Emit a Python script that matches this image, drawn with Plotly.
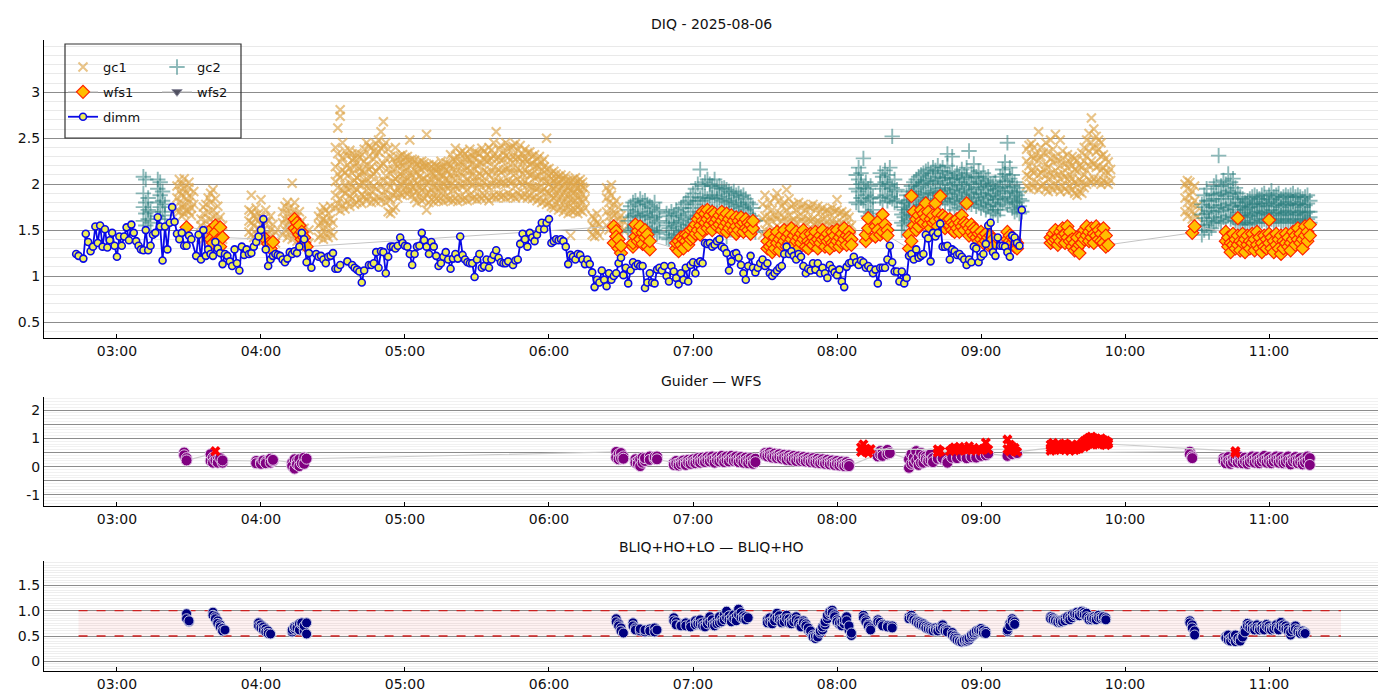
#! python3
# DIQ night summary: seeing per source + guider/WFS and BLIQ ratio panels
import pandas as pd
import plotly.graph_objects as go

DAY = '2025-08-06'
FONT = 'DejaVu Sans'

# ---------------- top panel: DIQ ----------------
dimm_time = [
    '02:43', '02:44', '02:46', '02:47', '02:48', '02:49', '02:50', '02:51', '02:52', '02:53',
    '02:54', '02:55', '02:56', '02:57', '02:58', '02:59', '03:00', '03:01', '03:02', '03:03',
    '03:04', '03:05', '03:06', '03:07', '03:08', '03:09', '03:10', '03:11', '03:12', '03:13',
    '03:14', '03:15', '03:16', '03:17', '03:18', '03:19', '03:20', '03:21', '03:22', '03:23',
    '03:24', '03:25', '03:26', '03:27', '03:28', '03:29', '03:30', '03:31', '03:33', '03:34',
    '03:35', '03:36', '03:37', '03:38', '03:39', '03:40', '03:41', '03:42', '03:43', '03:44',
    '03:45', '03:46', '03:47', '03:48', '03:49', '03:50', '03:51', '03:52', '03:53', '03:54',
    '03:55', '03:56', '03:57', '03:58', '03:59', '04:00', '04:01', '04:02', '04:03', '04:04',
    '04:05', '04:06', '04:07', '04:08', '04:09', '04:10', '04:11', '04:12', '04:13', '04:14',
    '04:15', '04:16', '04:17', '04:18', '04:19', '04:20', '04:21', '04:23', '04:24', '04:25',
    '04:26', '04:27', '04:28', '04:29', '04:30', '04:31', '04:32', '04:33', '04:36', '04:38',
    '04:39', '04:40', '04:41', '04:42', '04:43', '04:45', '04:46', '04:47', '04:48', '04:49',
    '04:50', '04:51', '04:52', '04:53', '04:54', '04:55', '04:56', '04:57', '04:58', '04:59',
    '05:00', '05:01', '05:02', '05:03', '05:04', '05:05', '05:06', '05:07', '05:08', '05:09',
    '05:10', '05:11', '05:12', '05:13', '05:14', '05:15', '05:16', '05:17', '05:18', '05:19',
    '05:20', '05:21', '05:22', '05:23', '05:24', '05:25', '05:26', '05:27', '05:28', '05:29',
    '05:30', '05:31', '05:32', '05:33', '05:34', '05:35', '05:36', '05:37', '05:38', '05:39',
    '05:40', '05:41', '05:42', '05:43', '05:45', '05:46', '05:47', '05:48', '05:49', '05:50',
    '05:51', '05:52', '05:53', '05:54', '05:55', '05:56', '05:57', '05:58', '05:59', '06:00',
    '06:01', '06:02', '06:03', '06:04', '06:05', '06:06', '06:07', '06:08', '06:09', '06:10',
    '06:11', '06:12', '06:13', '06:14', '06:15', '06:16', '06:17', '06:18', '06:19', '06:20',
    '06:21', '06:22', '06:23', '06:24', '06:25', '06:26', '06:27', '06:28', '06:29', '06:30',
    '06:31', '06:32', '06:33', '06:34', '06:35', '06:36', '06:37', '06:38', '06:39', '06:40',
    '06:41', '06:42', '06:43', '06:44', '06:45', '06:46', '06:47', '06:48', '06:49', '06:50',
    '06:51', '06:52', '06:53', '06:54', '06:55', '06:56', '06:57', '06:58', '06:59', '07:00',
    '07:01', '07:02', '07:03', '07:04', '07:05', '07:06', '07:07', '07:08', '07:09', '07:10',
    '07:11', '07:12', '07:13', '07:14', '07:15', '07:16', '07:17', '07:18', '07:19', '07:20',
    '07:21', '07:22', '07:23', '07:24', '07:25', '07:26', '07:27', '07:28', '07:29', '07:30',
    '07:31', '07:32', '07:33', '07:34', '07:35', '07:36', '07:37', '07:38', '07:39', '07:40',
    '07:41', '07:42', '07:43', '07:44', '07:45', '07:46', '07:47', '07:48', '07:49', '07:50',
    '07:51', '07:52', '07:53', '07:54', '07:55', '07:56', '07:57', '07:58', '07:59', '08:00',
    '08:01', '08:02', '08:03', '08:04', '08:05', '08:06', '08:07', '08:08', '08:09', '08:10',
    '08:11', '08:12', '08:13', '08:14', '08:15', '08:16', '08:17', '08:18', '08:19', '08:20',
    '08:21', '08:22', '08:23', '08:24', '08:25', '08:26', '08:27', '08:28', '08:29', '08:30',
    '08:31', '08:32', '08:33', '08:34', '08:35', '08:36', '08:37', '08:38', '08:39', '08:40',
    '08:41', '08:42', '08:43', '08:44', '08:45', '08:46', '08:47', '08:48', '08:49', '08:50',
    '08:51', '08:52', '08:53', '08:54', '08:55', '08:56', '08:57', '08:58', '08:59', '09:00',
    '09:01', '09:02', '09:03', '09:04', '09:05', '09:06', '09:07', '09:08', '09:09', '09:10',
    '09:11', '09:12', '09:13', '09:14', '09:15', '09:16', '09:17']
dimm_seeing = [
    1.24, 1.22, 1.19, 1.46, 1.37, 1.27, 1.32, 1.54, 1.36, 1.55,
    1.32, 1.51, 1.31, 1.39, 1.47, 1.33, 1.21, 1.43, 1.33, 1.43,
    1.53, 1.39, 1.56, 1.47, 1.38, 1.33, 1.29, 1.28, 1.50, 1.28,
    1.33, 1.45, 1.47, 1.64, 1.54, 1.17, 1.54, 1.29, 1.58, 1.75,
    1.59, 1.46, 1.40, 1.47, 1.33, 1.33, 1.44, 1.40, 1.22, 1.45,
    1.18, 1.50, 1.22, 1.29, 1.24, 1.22, 1.37, 1.30, 1.25, 1.13,
    1.24, 1.22, 1.16, 1.11, 1.29, 1.14, 1.06, 1.32, 1.23, 1.29,
    1.24, 1.25, 1.32, 1.37, 1.43, 1.50, 1.62, 1.29, 1.11, 1.18,
    1.22, 1.24, 1.23, 1.22, 1.18, 1.15, 1.19, 1.26, 1.24, 1.27,
    1.25, 1.32, 1.47, 1.40, 1.15, 1.25, 1.09, 1.24, 1.21, 1.22,
    1.18, 1.14, 1.21, 1.22, 1.25, 1.08, 1.08, 1.12, 1.16, 1.12,
    1.09, 1.07, 1.05, 0.93, 1.06, 1.12, 1.12, 1.14, 1.26, 1.09,
    1.27, 1.26, 1.03, 1.21, 1.32, 1.32, 1.30, 1.33, 1.42, 1.36,
    1.33, 1.32, 1.24, 1.12, 1.24, 1.32, 1.33, 1.47, 1.39, 1.32,
    1.24, 1.37, 1.32, 1.22, 1.11, 1.14, 1.21, 1.26, 1.18, 1.08,
    1.19, 1.24, 1.19, 1.43, 1.23, 1.18, 1.15, 1.14, 1.14, 0.99,
    1.18, 1.24, 1.09, 1.11, 1.18, 1.09, 1.18, 1.23, 1.28, 1.20,
    1.15, 1.14, 1.14, 1.16, 1.12, 1.17, 1.18, 1.35, 1.46, 1.40,
    1.32, 1.47, 1.42, 1.38, 1.45, 1.51, 1.58, 1.51, 1.58, 1.62,
    1.36, 1.38, 1.40, 1.39, 1.40, 1.38, 1.32, 1.13, 1.23, 1.21,
    1.18, 1.24, 1.23, 1.18, 1.13, 1.18, 1.13, 1.04, 0.88, 0.96,
    0.93, 1.06, 0.96, 0.89, 1.03, 0.96, 1.00, 1.03, 1.14, 1.20,
    1.01, 1.09, 0.92, 1.06, 1.15, 1.11, 1.13, 1.11, 1.11, 0.87,
    0.93, 1.03, 0.93, 0.92, 1.07, 1.09, 1.06, 1.11, 1.00, 0.94,
    1.11, 1.05, 0.98, 0.91, 1.03, 0.96, 1.09, 0.94, 1.12, 1.15,
    1.03, 1.14, 1.16, 1.14, 1.36, 1.35, 1.36, 1.32, 1.34, 1.38,
    1.40, 1.32, 1.30, 1.25, 1.06, 1.16, 1.24, 1.25, 1.20, 1.12,
    1.03, 0.96, 1.11, 1.22, 1.09, 1.04, 1.09, 1.14, 1.18, 1.11,
    1.14, 1.03, 1.00, 1.03, 1.06, 1.09, 1.11, 1.24, 1.32, 1.24,
    1.27, 1.22, 1.18, 1.24, 1.21, 1.11, 1.03, 1.08, 1.06, 1.14,
    1.07, 1.14, 1.03, 1.09, 1.03, 0.98, 1.12, 1.08, 1.04, 1.01,
    1.07, 0.94, 0.88, 1.10, 1.14, 1.15, 1.21, 1.15, 1.12, 1.17,
    1.15, 1.09, 1.11, 1.08, 1.03, 1.07, 0.92, 1.09, 1.09, 1.09,
    1.18, 1.33, 1.15, 1.05, 1.05, 0.94, 1.05, 0.92, 0.98, 1.22,
    1.24, 1.18, 1.29, 1.20, 1.22, 1.24, 1.45, 1.41, 1.16, 1.47,
    1.43, 1.47, 1.57, 1.32, 1.32, 1.33, 1.18, 1.29, 1.27, 1.23,
    1.24, 1.21, 1.18, 1.12, 1.18, 1.15, 1.32, 1.30, 1.15, 1.21,
    1.24, 1.35, 1.55, 1.58, 1.26, 1.22, 1.42, 1.33, 1.33, 1.32,
    1.26, 1.21, 1.44, 1.42, 1.36, 1.33, 1.72]

gc1_time = [
    '03:25', '03:26', '03:27', '03:28', '03:29', '03:30', '03:31', '03:32',
    '03:35', '03:36', '03:37', '03:38', '03:39', '03:40', '03:41', '03:42', '03:43', '03:44',
    '03:55', '03:56', '03:57', '03:58', '03:59', '04:00', '04:01', '04:02', '04:03', '04:04',
    '04:05', '04:06',
    '04:09', '04:10', '04:11', '04:12', '04:13', '04:14', '04:15', '04:16', '04:17', '04:18',
    '04:19', '04:20',
    '04:24', '04:25', '04:26', '04:27', '04:28', '04:29', '04:30',
    '04:31', '04:32', '04:33', '04:34', '04:35', '04:36', '04:37', '04:38', '04:39', '04:40',
    '04:41', '04:42', '04:43', '04:44', '04:45', '04:46', '04:47', '04:48', '04:49', '04:50',
    '04:51', '04:52', '04:53', '04:54', '04:55', '04:56', '04:57', '04:58', '04:59', '05:00',
    '05:01', '05:02', '05:03', '05:04', '05:05', '05:06', '05:07', '05:08', '05:09', '05:10',
    '05:11', '05:12', '05:13', '05:14', '05:15', '05:16', '05:17', '05:18', '05:19', '05:20',
    '05:21', '05:22', '05:23', '05:24', '05:25', '05:26', '05:27', '05:28', '05:29', '05:30',
    '05:31', '05:32', '05:33', '05:34', '05:35', '05:36', '05:37', '05:38', '05:39', '05:40',
    '05:41', '05:42', '05:43', '05:44', '05:45', '05:46', '05:47', '05:48', '05:49', '05:50',
    '05:51', '05:52', '05:53', '05:54', '05:55', '05:56', '05:57', '05:58', '05:59', '06:00',
    '06:01', '06:02', '06:03', '06:04', '06:05', '06:06', '06:07', '06:08', '06:09', '06:10',
    '06:11', '06:12', '06:13', '06:14', '06:15',
    '06:18', '06:19', '06:20', '06:21', '06:24', '06:25', '06:26', '06:27', '06:28', '06:29',
    '06:30', '06:31',
    '07:29', '07:30', '07:31', '07:32', '07:33', '07:34', '07:35', '07:36', '07:37', '07:38',
    '07:39', '07:40', '07:41', '07:42', '07:43', '07:44', '07:45', '07:46', '07:47', '07:48',
    '07:49', '07:50', '07:51', '07:52', '07:53', '07:54', '07:55', '07:56', '07:57', '07:58',
    '07:59', '08:00', '08:01', '08:02', '08:03', '08:04', '08:05', '08:06',
    '09:19', '09:20', '09:21', '09:22', '09:23', '09:24', '09:25', '09:26', '09:27', '09:28',
    '09:29', '09:30', '09:31', '09:32', '09:33', '09:34', '09:35', '09:36', '09:37', '09:38',
    '09:39', '09:40', '09:41', '09:42', '09:43', '09:44', '09:45', '09:46', '09:47', '09:48',
    '09:49', '09:50', '09:51', '09:52', '09:53', '09:54',
    '10:25', '10:26', '10:27', '10:28', '10:29', '10:30']
gc1_fwhm = [
    [1.72, 1.85, 1.98], [1.70, 1.80, 1.92, 2.05], [1.75, 1.88, 2.00, 1.65], [1.68, 1.78, 1.95, 2.06],
    [1.72, 1.84, 1.90], [1.70, 1.80, 1.96, 2.02], [1.74, 1.86, 1.66], [1.78, 1.92],
    [1.42, 1.55, 1.62], [1.40, 1.50, 1.68, 1.75], [1.45, 1.60, 1.78], [1.38, 1.52, 1.70, 1.85],
    [1.48, 1.62, 1.80, 1.90], [1.42, 1.58, 1.72, 1.94], [1.36, 1.50, 1.66, 1.84], [1.45, 1.60, 1.76],
    [1.34, 1.48, 1.64], [1.40, 1.55],
    [1.48, 1.60, 1.72], [1.45, 1.58, 1.70, 1.88], [1.42, 1.55, 1.66], [1.46, 1.62, 1.74],
    [1.40, 1.52, 1.68], [1.44, 1.56, 1.83, 1.64], [1.38, 1.50, 1.62], [1.45, 1.58, 1.72],
    [1.34, 1.46, 1.60], [1.38, 1.50, 1.65], [1.32, 1.44, 1.56], [1.36, 1.48],
    [1.45, 1.58, 1.70], [1.50, 1.62, 1.76], [1.42, 1.56, 1.68, 1.80], [1.48, 1.60, 1.74],
    [1.40, 1.55, 1.66, 2.01], [1.46, 1.58, 1.72, 1.80], [1.38, 1.52, 1.64], [1.44, 1.56, 1.70],
    [1.34, 1.48, 1.60], [1.40, 1.52], [1.32, 1.45], [1.36, 1.50],
    [1.42, 1.55, 1.65], [1.45, 1.58, 1.70], [1.40, 1.52, 1.62, 1.75], [1.46, 1.60, 1.72],
    [1.42, 1.55, 1.68], [1.48, 1.62, 1.76], [1.44, 1.58],
    [1.74, 1.88, 2.03, 2.19, 2.40], [1.79, 1.96, 2.11, 2.33, 2.61], [1.71, 1.84, 2.07, 2.24, 2.81, 2.74],
    [1.77, 1.93, 2.15, 2.29, 2.45], [1.73, 1.90, 1.99, 2.13, 2.36], [1.81, 1.95, 2.09, 2.21, 2.31],
    [1.76, 1.87, 2.01, 2.17, 2.37], [1.84, 1.97, 2.12, 2.26, 2.33], [1.78, 1.91, 2.04, 2.19, 2.28],
    [1.80, 1.94, 2.07, 2.23, 2.34],
    [1.83, 1.99, 2.10, 2.17, 2.29], [1.79, 1.89, 2.02, 2.14, 2.32], [1.86, 2.01, 2.13, 2.25, 2.38],
    [1.82, 1.93, 2.06, 2.21, 2.45], [1.87, 2.00, 2.16, 2.30, 2.41], [1.80, 1.92, 2.08, 2.19, 2.40],
    [1.84, 1.98, 2.11, 2.27, 2.36], [1.81, 1.95, 2.14, 2.31, 2.44], [1.86, 2.03, 2.18, 2.35, 2.48],
    [1.82, 1.97, 2.20, 2.39, 2.57],
    [1.88, 2.04, 2.22, 2.41, 2.68], [1.80, 1.94, 2.09, 2.28, 2.45], [1.70, 1.86, 2.01, 2.17, 2.38],
    [1.68, 1.83, 1.97, 2.11, 2.30], [1.72, 1.88, 2.03, 2.16, 2.27], [1.75, 1.91, 2.06, 2.22, 2.40],
    [1.85, 1.96, 2.08, 2.19, 2.29], [1.90, 2.00, 2.11, 2.23, 2.31], [1.88, 1.99, 2.09, 2.20, 2.32],
    [1.92, 2.03, 2.14, 2.24, 2.29],
    [1.89, 1.98, 2.07, 2.18, 2.30], [1.93, 2.02, 2.12, 2.26, 2.48], [1.88, 1.97, 2.10, 2.21, 2.27],
    [1.84, 1.95, 2.04, 2.15, 2.26], [1.80, 1.92, 2.01, 2.13, 2.22], [1.86, 1.97, 2.08, 2.17, 2.24],
    [1.82, 1.93, 2.05, 2.16, 2.25], [1.84, 1.96, 2.06, 2.19, 2.23], [1.72, 1.90, 2.03, 2.20, 2.54],
    [1.80, 1.91, 2.02, 2.12, 2.21],
    [1.83, 1.94, 2.05, 2.13, 2.19], [1.81, 1.90, 2.00, 2.11, 2.22], [1.84, 1.96, 2.07, 2.16, 2.20],
    [1.82, 1.92, 2.03, 2.12, 2.18], [1.85, 1.97, 2.09, 2.18, 2.25], [1.81, 1.93, 2.01, 2.10, 2.19],
    [1.86, 1.98, 2.06, 2.15, 2.23], [1.83, 1.95, 2.04, 2.14, 2.22], [1.84, 1.99, 2.10, 2.21, 2.32],
    [1.82, 1.94, 2.06, 2.17, 2.27],
    [1.85, 1.98, 2.12, 2.25, 2.39], [1.81, 1.95, 2.07, 2.19, 2.30], [1.86, 2.00, 2.13, 2.24, 2.34],
    [1.83, 1.97, 2.09, 2.21, 2.36], [1.85, 2.01, 2.15, 2.27, 2.33], [1.82, 1.94, 2.06, 2.18, 2.29],
    [1.88, 2.02, 2.14, 2.26, 2.38], [1.84, 1.98, 2.10, 2.22, 2.31], [1.86, 2.03, 2.16, 2.28, 2.35],
    [1.83, 1.96, 2.08, 2.20, 2.34],
    [1.87, 2.01, 2.12, 2.24, 2.33], [1.84, 1.97, 2.09, 2.23, 2.39], [1.88, 2.02, 2.15, 2.27, 2.36],
    [1.85, 1.99, 2.13, 2.25, 2.32], [1.82, 1.96, 2.10, 2.26, 2.40], [1.86, 2.00, 2.14, 2.28, 2.37],
    [1.88, 2.04, 2.18, 2.31, 2.45], [1.85, 1.99, 2.12, 2.27, 2.57], [1.89, 2.03, 2.16, 2.29, 2.38],
    [1.86, 2.01, 2.13, 2.26, 2.42],
    [1.88, 2.02, 2.15, 2.27, 2.36], [1.85, 2.00, 2.16, 2.31, 2.45], [1.90, 2.04, 2.17, 2.29, 2.39],
    [1.86, 2.01, 2.13, 2.26, 2.40], [1.88, 2.03, 2.18, 2.30, 2.41], [1.85, 1.98, 2.12, 2.27, 2.44],
    [1.90, 2.05, 2.17, 2.29, 2.37], [1.87, 2.02, 2.15, 2.28, 2.42], [1.86, 1.99, 2.11, 2.24, 2.33],
    [1.89, 2.03, 2.16, 2.27, 2.38],
    [1.85, 1.99, 2.12, 2.25, 2.34], [1.88, 1.98, 2.10, 2.21, 2.35], [1.84, 1.97, 2.11, 2.23, 2.30],
    [1.86, 1.96, 2.07, 2.19, 2.32], [1.82, 1.95, 2.08, 2.20, 2.27], [1.85, 1.97, 2.09, 2.19, 2.30],
    [1.80, 1.92, 2.04, 2.15, 2.24], [1.82, 1.95, 2.08, 2.19, 2.27], [1.78, 1.91, 2.03, 2.16, 2.50],
    [1.80, 1.90, 2.00, 2.09, 2.17],
    [1.76, 1.87, 1.97, 2.06, 2.12], [1.74, 1.85, 1.95, 2.04, 2.14], [1.78, 1.88, 1.98, 2.06, 2.11],
    [1.72, 1.83, 1.93, 2.01, 2.08], [1.75, 1.86, 1.96, 2.05, 2.10], [1.70, 1.81, 1.91, 1.99, 2.06],
    [1.74, 1.84, 1.94, 2.03, 2.09], [1.68, 1.79, 1.89, 1.97, 2.04], [1.44, 1.72, 1.83, 1.93, 2.03],
    [1.70, 1.80, 1.90, 1.98, 2.05],
    [1.72, 1.82, 1.92, 2.01, 2.07], [1.68, 1.78, 1.88, 1.96, 2.03], [1.72, 1.83, 1.93, 2.00, 2.05],
    [1.70, 1.80, 1.89, 1.97, 2.02], [1.74, 1.84, 1.95],
    [1.45, 1.55, 1.65], [1.43, 1.52, 1.62], [1.48, 1.58, 1.68], [1.44, 1.56],
    [1.55, 1.70, 1.85, 1.96], [1.50, 1.65, 1.80, 1.92], [1.58, 1.72, 1.88, 1.99], [1.52, 1.66, 1.78],
    [1.55, 1.68, 1.82], [1.50, 1.62, 1.75], [1.54, 1.66], [1.50, 1.60],
    [1.45, 1.62, 1.78], [1.50, 1.65, 1.88], [1.42, 1.58, 1.74], [1.48, 1.64, 1.80],
    [1.44, 1.60, 1.72], [1.50, 1.66, 1.85], [1.46, 1.62, 1.90], [1.52, 1.68, 1.82],
    [1.44, 1.60, 1.76], [1.48, 1.64, 1.80],
    [1.45, 1.58, 1.72, 1.94], [1.50, 1.66, 1.84], [1.46, 1.60, 1.76], [1.48, 1.62, 1.78],
    [1.44, 1.58, 1.72], [1.50, 1.65, 1.80], [1.46, 1.60, 1.74], [1.48, 1.64, 1.78],
    [1.44, 1.58, 1.72], [1.50, 1.62, 1.76],
    [1.46, 1.60, 1.74], [1.48, 1.62, 1.78], [1.44, 1.58, 1.72], [1.47, 1.60, 1.76],
    [1.45, 1.58, 1.70], [1.48, 1.62, 1.74], [1.44, 1.56, 1.70], [1.46, 1.60, 1.72],
    [1.42, 1.55, 1.68], [1.48, 1.60, 1.74],
    [1.44, 1.56, 1.70], [1.46, 1.58, 1.72, 1.83], [1.42, 1.55, 1.68], [1.45, 1.58, 1.70],
    [1.42, 1.54, 1.66], [1.44, 1.56, 1.68], [1.40, 1.52, 1.64], [1.42, 1.55],
    [1.98, 2.10, 2.25, 2.38], [1.95, 2.08, 2.20, 2.42], [2.00, 2.15, 2.30, 2.44], [1.96, 2.12, 2.28, 2.40],
    [2.02, 2.18, 2.32], [1.94, 2.10, 2.26, 2.57], [1.98, 2.12, 2.30, 2.40], [2.00, 2.16, 2.34],
    [1.95, 2.10, 2.22, 2.45], [1.92, 2.05, 2.18, 2.35],
    [1.98, 2.12, 2.28, 2.48], [1.94, 2.08, 2.24, 2.38], [2.00, 2.15, 2.30, 2.54], [1.96, 2.10, 2.26],
    [1.92, 2.06, 2.20, 2.48], [1.98, 2.12, 2.28, 2.36], [1.95, 2.08, 2.22], [1.92, 2.05, 2.18, 2.32],
    [1.98, 2.10, 2.24], [1.94, 2.06, 2.20, 2.30],
    [1.90, 2.02, 2.16, 2.28], [1.88, 2.00, 2.14, 2.26], [1.92, 2.05, 2.20], [1.90, 2.02, 2.18, 2.34],
    [1.96, 2.10, 2.25, 2.40], [2.00, 2.15, 2.30, 2.48], [2.05, 2.20, 2.36, 2.55], [2.02, 2.25, 2.45, 2.72],
    [2.06, 2.22, 2.40, 2.60], [2.02, 2.18, 2.35, 2.52],
    [2.05, 2.20, 2.38, 2.48], [2.00, 2.15, 2.30, 2.45], [2.04, 2.18, 2.32], [2.02, 2.14, 2.28],
    [2.00, 2.12, 2.24], [2.04, 2.16],
    [1.70, 1.85, 2.00], [1.65, 1.80, 1.95, 2.04], [1.72, 1.88, 2.02], [1.62, 1.78, 1.92],
    [1.68, 1.82, 1.98], [1.64, 1.76]]

gc2_time = [
    '03:11', '03:12', '03:13', '03:14', '03:17', '03:18', '03:19', '03:20',
    '06:33', '06:34', '06:35', '06:36', '06:37', '06:38', '06:39', '06:40', '06:41', '06:42',
    '06:43', '06:44', '06:45', '06:46',
    '06:49', '06:50', '06:51', '06:52', '06:53', '06:54', '06:55', '06:56', '06:57', '06:58',
    '06:59', '07:00', '07:01', '07:02', '07:03', '07:04', '07:05', '07:06', '07:07', '07:08',
    '07:09', '07:10', '07:11', '07:12', '07:13', '07:14', '07:15', '07:16', '07:17', '07:18',
    '07:19', '07:20', '07:21', '07:22', '07:23', '07:24', '07:25', '07:26',
    '08:08', '08:09', '08:10', '08:11', '08:12', '08:13', '08:14', '08:15',
    '08:18', '08:19', '08:20', '08:21', '08:22', '08:23', '08:24', '08:25',
    '08:27', '08:28', '08:29', '08:30', '08:31', '08:32', '08:33', '08:34', '08:35', '08:36',
    '08:37', '08:38', '08:39', '08:40', '08:41', '08:42', '08:43', '08:44', '08:45', '08:46',
    '08:47', '08:48', '08:49', '08:50', '08:51', '08:52', '08:53', '08:54', '08:55', '08:56',
    '08:57', '08:58', '08:59', '09:00', '09:01', '09:02', '09:03', '09:04', '09:05', '09:06',
    '09:07', '09:08', '09:09', '09:10', '09:11', '09:12', '09:13', '09:14', '09:15', '09:16',
    '09:17',
    '10:32', '10:33', '10:34', '10:35', '10:36', '10:37', '10:38', '10:39', '10:40', '10:41',
    '10:42', '10:43', '10:44', '10:45', '10:46', '10:47', '10:48', '10:49', '10:50', '10:51',
    '10:52', '10:53', '10:54', '10:55', '10:56', '10:57', '10:58', '10:59', '11:00', '11:01',
    '11:02', '11:03', '11:04', '11:05', '11:06', '11:07', '11:08', '11:09', '11:10', '11:11',
    '11:12', '11:13', '11:14', '11:15', '11:16', '11:17']
gc2_fwhm = [
    [1.60, 1.75, 1.90, 2.08], [1.55, 1.68, 1.80, 2.05], [1.62, 1.72, 1.85], [1.58, 1.70],
    [1.65, 1.80, 1.95, 2.05], [1.62, 1.75, 1.88, 2.02], [1.70, 1.82, 1.92], [1.66, 1.78],
    [1.48, 1.60, 1.72], [1.50, 1.64, 1.76], [1.52, 1.66, 1.80], [1.55, 1.68, 1.82],
    [1.50, 1.65, 1.78], [1.56, 1.70, 1.84], [1.52, 1.66, 1.80], [1.54, 1.68, 1.82],
    [1.50, 1.64, 1.78], [1.52, 1.66, 1.76], [1.48, 1.62, 1.74], [1.50, 1.64, 1.80],
    [1.46, 1.58, 1.70], [1.48, 1.60, 1.72],
    [1.42, 1.55, 1.68], [1.40, 1.52, 1.65], [1.45, 1.58, 1.70], [1.42, 1.54, 1.66],
    [1.46, 1.58, 1.72], [1.44, 1.56, 1.68], [1.48, 1.60, 1.74], [1.50, 1.64, 1.78],
    [1.48, 1.62, 1.80], [1.52, 1.66, 1.82], [1.55, 1.70, 1.86], [1.58, 1.74, 1.90],
    [1.62, 1.78, 1.95], [1.65, 1.82, 2.00], [1.68, 1.85, 2.16], [1.66, 1.82, 1.98],
    [1.70, 1.86, 2.02], [1.68, 1.84, 2.05], [1.72, 1.88, 2.00], [1.70, 1.85, 1.98],
    [1.72, 1.88, 2.05], [1.68, 1.84, 1.96], [1.70, 1.86, 1.98], [1.66, 1.82, 1.95],
    [1.68, 1.84, 1.96], [1.65, 1.80, 1.94, 1.43], [1.68, 1.82, 1.92], [1.64, 1.78, 1.90],
    [1.66, 1.80, 1.92], [1.62, 1.76, 1.88], [1.64, 1.78, 1.90], [1.60, 1.74, 1.86],
    [1.62, 1.76, 1.88], [1.58, 1.72, 1.84], [1.55, 1.68, 1.80], [1.52, 1.65, 1.78],
    [1.50, 1.62, 1.74], [1.48, 1.60],
    [1.80, 1.95, 2.10], [1.78, 1.92, 2.05, 2.18], [1.85, 2.00, 2.12], [1.82, 1.96, 2.28],
    [1.70, 1.88, 2.02], [1.65, 1.80, 1.95], [1.68, 1.84, 1.98], [1.72, 1.86],
    [1.85, 2.00, 2.12], [1.80, 1.95, 2.08], [1.88, 2.02, 2.15], [1.82, 1.98, 2.10],
    [1.86, 2.00, 2.18], [1.84, 1.96, 2.52], [1.80, 1.92, 2.05], [1.82, 1.94],
    [1.50, 1.58, 1.67, 1.75], [1.55, 1.64, 1.72, 1.80], [1.60, 1.69, 1.79, 1.88],
    [1.62, 1.73, 1.83, 1.92], [1.66, 1.77, 1.88, 1.98], [1.70, 1.81, 1.92, 2.02],
    [1.72, 1.83, 1.95, 2.05], [1.75, 1.85, 1.97, 2.08], [1.74, 1.86, 1.99, 2.10],
    [1.78, 1.89, 2.01, 2.12],
    [1.76, 1.88, 2.03, 2.14], [1.80, 1.91, 2.04, 2.16], [1.77, 1.90, 2.01, 2.12],
    [1.82, 1.93, 2.06, 2.18], [1.79, 1.91, 2.03, 2.15], [1.84, 1.95, 2.08, 2.20],
    [1.81, 1.92, 2.04, 2.14], [1.85, 1.96, 2.07, 2.18], [1.80, 1.90, 2.01, 2.12],
    [1.84, 1.94, 2.07, 2.20, 2.33],
    [1.78, 1.89, 1.99, 2.10], [1.82, 1.93, 2.05, 2.14, 2.30], [1.72, 1.84, 1.95, 2.06],
    [1.80, 1.91, 2.02, 2.12], [1.74, 1.86, 1.97, 2.08], [1.82, 1.93, 2.05, 2.16],
    [1.76, 1.88, 1.99, 2.10], [1.84, 1.95, 2.07, 2.18], [1.80, 1.91, 2.02, 2.36],
    [1.78, 1.89, 2.00, 2.12],
    [1.82, 1.94, 2.08, 2.22], [1.76, 1.86, 1.97, 2.08], [1.80, 1.91, 2.03, 2.14],
    [1.74, 1.85, 1.96, 2.06], [1.78, 1.89, 2.01, 2.12], [1.72, 1.83, 1.94, 2.04],
    [1.76, 1.87, 1.98, 2.08], [1.70, 1.80, 1.90, 2.00], [1.68, 1.78, 1.88, 1.98],
    [1.72, 1.83, 1.93, 2.02],
    [1.66, 1.76, 1.86, 1.95], [1.72, 1.84, 1.96, 2.08], [1.80, 1.92, 2.04, 2.16],
    [1.84, 1.97, 2.11, 2.24], [1.78, 1.90, 2.03, 2.45], [1.82, 1.93, 2.06, 2.18],
    [1.74, 1.86, 1.98, 2.10], [1.70, 1.80, 1.91, 2.02], [1.72, 1.80, 1.88, 1.96],
    [1.68, 1.76, 1.84, 1.92], [1.70, 1.82],
    [1.45, 1.56, 1.67, 1.78], [1.50, 1.63, 1.75, 1.88], [1.55, 1.68, 1.82, 1.95],
    [1.48, 1.60, 1.71, 1.82], [1.52, 1.64, 1.77, 1.90], [1.58, 1.70, 1.84, 1.98],
    [1.60, 1.74, 1.88, 2.02], [1.62, 1.75, 1.89, 2.31], [1.58, 1.71, 1.84, 1.98],
    [1.64, 1.77, 1.91, 2.04],
    [1.60, 1.73, 1.87, 2.00], [1.66, 1.79, 1.93, 2.11], [1.62, 1.75, 1.89, 2.02],
    [1.64, 1.77, 1.91, 2.06], [1.60, 1.72, 1.84, 1.96], [1.58, 1.69, 1.80, 1.90],
    [1.56, 1.66, 1.76, 1.86], [1.58, 1.67, 1.76, 1.84], [1.56, 1.64, 1.72, 1.80],
    [1.58, 1.66, 1.74, 1.82],
    [1.56, 1.65, 1.75, 1.84], [1.60, 1.69, 1.78, 1.86], [1.58, 1.68, 1.78, 1.88],
    [1.62, 1.70, 1.79, 1.86], [1.58, 1.67, 1.76, 1.84], [1.60, 1.69, 1.79, 1.88],
    [1.62, 1.71, 1.81, 1.90], [1.58, 1.67, 1.76, 1.84], [1.60, 1.69, 1.79, 1.88],
    [1.62, 1.72, 1.83, 1.93],
    [1.58, 1.68, 1.77, 1.86], [1.60, 1.69, 1.79, 1.88], [1.62, 1.71, 1.81, 1.90],
    [1.58, 1.66, 1.75, 1.84], [1.60, 1.68, 1.77, 1.86], [1.62, 1.70, 1.79, 1.88],
    [1.58, 1.67, 1.77, 1.86], [1.60, 1.69, 1.79, 1.88], [1.62, 1.71, 1.81, 1.90],
    [1.58, 1.67, 1.77, 1.86],
    [1.60, 1.69, 1.79, 1.88], [1.62, 1.70, 1.78, 1.86], [1.58, 1.66, 1.75, 1.84],
    [1.60, 1.68, 1.77, 1.86], [1.62, 1.70, 1.79, 1.88], [1.58, 1.64, 1.70, 1.82]]

wfs1_time = [
    '03:29', '03:39', '03:40', '03:41', '03:42', '03:43', '03:44',
    '04:02', '04:03', '04:04', '04:05',
    '04:14', '04:15', '04:16', '04:17', '04:18', '04:19',
    '06:27', '06:28', '06:29', '06:30',
    '06:35', '06:36', '06:37', '06:38', '06:39', '06:40', '06:41', '06:42',
    '06:53', '06:54', '06:55', '06:56', '06:57', '06:58', '06:59', '07:00', '07:01', '07:02',
    '07:03', '07:04', '07:05', '07:06', '07:07', '07:08', '07:09', '07:10', '07:11', '07:12',
    '07:13', '07:14', '07:15', '07:16', '07:17', '07:18', '07:19', '07:20', '07:21', '07:22',
    '07:23', '07:24', '07:25',
    '07:31', '07:32', '07:33', '07:34', '07:35', '07:36', '07:37', '07:38', '07:39', '07:40',
    '07:41', '07:42', '07:43', '07:44', '07:45', '07:46', '07:47', '07:48', '07:49', '07:50',
    '07:51', '07:52', '07:53', '07:54', '07:55', '07:56', '07:57', '07:58', '07:59', '08:00',
    '08:01', '08:02', '08:03', '08:04', '08:05', '08:06',
    '08:12', '08:13', '08:16', '08:17', '08:18', '08:19', '08:20', '08:21',
    '08:30', '08:31', '08:32', '08:33', '08:34', '08:35', '08:36', '08:37', '08:38', '08:39',
    '08:40', '08:41', '08:42', '08:43', '08:44', '08:45', '08:46', '08:47', '08:48', '08:49',
    '08:50', '08:51', '08:52', '08:53', '08:54', '08:55', '08:56', '08:57', '08:58', '08:59',
    '09:00', '09:01', '09:02', '09:03', '09:04', '09:05', '09:11', '09:12', '09:13', '09:14',
    '09:15',
    '09:29', '09:30', '09:31', '09:32', '09:33', '09:34', '09:35', '09:36', '09:37', '09:38',
    '09:39', '09:40', '09:41', '09:42', '09:43', '09:44', '09:45', '09:46', '09:47', '09:48',
    '09:49', '09:50', '09:51', '09:52', '09:53',
    '10:28', '10:29',
    '10:42', '10:43', '10:44', '10:45', '10:46', '10:47', '10:48', '10:49', '10:50', '10:51',
    '10:52', '10:53', '10:54', '10:55', '10:56', '10:57', '10:58', '10:59', '11:00', '11:01',
    '11:02', '11:03', '11:04', '11:05', '11:06', '11:07', '11:08', '11:09', '11:10', '11:11',
    '11:12', '11:13', '11:14', '11:15', '11:16', '11:17']
wfs1_fwhm = [
    [1.53], [1.50, 1.40], [1.36], [1.55, 1.47], [1.39], [1.53, 1.32], [1.42],
    [1.40], [1.35], [1.30], [1.37],
    [1.62, 1.52], [1.58, 1.49], [1.55, 1.45], [1.40, 1.48], [1.36, 1.42], [1.32],
    [1.54, 1.36], [1.49, 1.43], [1.30, 1.40], [1.25, 1.33],
    [1.32, 1.36], [1.56, 1.43], [1.49, 1.38], [1.54, 1.40], [1.47, 1.35], [1.50, 1.42],
    [1.32, 1.45], [1.29, 1.38],
    [1.30, 1.36], [1.27, 1.38], [1.34, 1.42], [1.30, 1.40], [1.38, 1.45], [1.34, 1.44],
    [1.40, 1.50], [1.42, 1.52], [1.46, 1.56], [1.50, 1.62],
    [1.55, 1.66, 1.45], [1.60, 1.70, 1.50], [1.58, 1.68], [1.62, 1.72, 1.52], [1.56, 1.66],
    [1.60, 1.70, 1.50], [1.58, 1.68], [1.62, 1.54], [1.56, 1.66], [1.60, 1.70, 1.50],
    [1.54, 1.64], [1.58, 1.68, 1.48], [1.52, 1.62], [1.56, 1.66], [1.50, 1.60],
    [1.54, 1.64, 1.46], [1.50, 1.60], [1.56, 1.64], [1.48, 1.58], [1.52, 1.62],
    [1.50, 1.58], [1.46, 1.56], [1.52, 1.60],
    [1.38, 1.30], [1.45, 1.32], [1.35, 1.26], [1.42, 1.30], [1.48, 1.36], [1.40, 1.28],
    [1.44, 1.34], [1.50, 1.38], [1.42, 1.32], [1.46, 1.36],
    [1.52, 1.40], [1.44, 1.34], [1.48, 1.38], [1.42, 1.30], [1.46, 1.36], [1.50, 1.40],
    [1.44, 1.32], [1.38, 1.30], [1.46, 1.36], [1.42, 1.34],
    [1.48, 1.38], [1.40, 1.30], [1.44, 1.36], [1.50, 1.40], [1.42, 1.32], [1.46, 1.38],
    [1.40, 1.30], [1.48, 1.36], [1.44, 1.34], [1.50, 1.38],
    [1.42, 1.32], [1.46, 1.36], [1.52, 1.40], [1.44, 1.34], [1.48, 1.42], [1.40, 1.34],
    [1.38, 1.45], [1.52, 1.63], [1.54, 1.43], [1.59, 1.50], [1.45], [1.67, 1.48], [1.56],
    [1.50, 1.44],
    [1.30, 1.45], [1.38, 1.87], [1.55, 1.70], [1.62, 1.50], [1.66, 1.54], [1.60, 1.72],
    [1.58, 1.68], [1.64, 1.79], [1.56, 1.70], [1.62, 1.52],
    [1.58, 1.66], [1.79, 1.60], [1.54, 1.68], [1.87, 1.62], [1.58, 1.66], [1.52, 1.64],
    [1.60, 1.56], [1.55, 1.62], [1.50, 1.58], [1.56, 1.48],
    [1.52, 1.62], [1.48, 1.58], [1.54, 1.66], [1.50, 1.58], [1.79, 1.56], [1.52, 1.44],
    [1.48, 1.56], [1.44, 1.52], [1.50, 1.42], [1.46, 1.38],
    [1.40, 1.48], [1.44, 1.36], [1.38, 1.46], [1.42, 1.34], [1.36, 1.44], [1.40, 1.32],
    [1.48, 1.40], [1.44, 1.38], [1.36, 1.42], [1.32, 1.40], [1.30, 1.36],
    [1.36, 1.42], [1.46, 1.38], [1.50, 1.40], [1.42, 1.34], [1.48, 1.38], [1.52, 1.44],
    [1.46, 1.36], [1.54, 1.42], [1.48, 1.38], [1.40, 1.32],
    [1.36, 1.28], [1.42, 1.30], [1.34, 1.25], [1.44, 1.36], [1.50, 1.40], [1.54, 1.44],
    [1.48, 1.38], [1.52, 1.42], [1.46, 1.36], [1.54, 1.44],
    [1.50, 1.40], [1.46, 1.38], [1.52, 1.36], [1.44, 1.32], [1.34],
    [1.47], [1.54],
    [1.48, 1.38], [1.42, 1.32], [1.36, 1.26], [1.46, 1.34], [1.40, 1.30], [1.63, 1.44, 1.34],
    [1.38, 1.28], [1.46, 1.36], [1.40, 1.26], [1.44, 1.34],
    [1.38, 1.30], [1.46, 1.36], [1.40, 1.28], [1.48, 1.34], [1.42, 1.30], [1.36, 1.26],
    [1.44, 1.32], [1.40, 1.30], [1.61, 1.46, 1.36], [1.42, 1.30],
    [1.38, 1.26], [1.46, 1.34], [1.40, 1.30], [1.44, 1.24], [1.38, 1.30], [1.46, 1.36],
    [1.42, 1.32], [1.36, 1.28], [1.48, 1.40], [1.44, 1.34],
    [1.52, 1.40], [1.46, 1.36], [1.40, 1.30], [1.54, 1.44], [1.48, 1.38], [1.56, 1.44]]

# ---------------- middle panel: Guider - WFS ----------------
guider_time = [
    '03:28', '03:29', '03:39', '03:40', '03:41', '03:42', '03:43', '03:44',
    '03:58', '04:00', '04:01', '04:02', '04:04', '04:05',
    '04:13', '04:14', '04:15', '04:16', '04:17', '04:18', '04:19',
    '06:28', '06:29', '06:30', '06:31',
    '06:36', '06:37', '06:38', '06:39', '06:40', '06:42', '06:44', '06:45',
    '06:52', '06:53', '06:54', '06:55', '06:56', '06:57', '06:58', '06:59', '07:00', '07:01',
    '07:02', '07:03', '07:04', '07:05', '07:06', '07:07', '07:08', '07:09', '07:10', '07:11',
    '07:12', '07:13', '07:14', '07:15', '07:16', '07:17', '07:18', '07:19', '07:20', '07:21',
    '07:22', '07:23', '07:24', '07:25', '07:26',
    '07:30', '07:31', '07:32', '07:33', '07:34', '07:35', '07:36', '07:37', '07:38', '07:39',
    '07:40', '07:41', '07:42', '07:43', '07:44', '07:45', '07:46', '07:47', '07:48', '07:49',
    '07:50', '07:51', '07:52', '07:53', '07:54', '07:55', '07:56', '07:57', '07:58', '07:59',
    '08:00', '08:01', '08:02', '08:03', '08:04', '08:05',
    '08:17', '08:18', '08:19', '08:21', '08:22',
    '08:30', '08:31', '08:32', '08:33', '08:34', '08:35', '08:36', '08:37', '08:38', '08:39',
    '08:40', '08:42', '08:44', '08:46',
    '08:48', '08:50', '08:52', '08:54', '08:56', '08:58', '09:00', '09:02', '09:03',
    '09:11', '09:13', '09:15',
    '10:27', '10:28',
    '10:41', '10:42', '10:43', '10:44', '10:45', '10:46', '10:47', '10:48', '10:49', '10:50',
    '10:51', '10:52', '10:53', '10:54', '10:55', '10:56', '10:57', '10:58', '10:59', '11:00',
    '11:01', '11:02', '11:03', '11:04', '11:05', '11:06', '11:07', '11:08', '11:09', '11:10',
    '11:11', '11:12', '11:13', '11:14', '11:15', '11:16', '11:17']
guider_dq = [
    [0.50, 0.40], [0.30, 0.22], [0.44, 0.20], [0.32, 0.14], [0.36, 0.22], [0.26, 0.14],
    [0.30], [0.14, 0.22],
    [0.20, 0.12], [0.16, 0.10], [0.22], [0.18, 0.12], [0.28, 0.14], [0.20, 0.24],
    [0.14, 0.02], [0.26, -0.07], [0.20, 0.08], [0.26, 0.02], [0.12], [0.32, 0.10], [0.28],
    [0.52, 0.32], [0.44, 0.26], [0.48, 0.30], [0.36, 0.28],
    [0.26, 0.14], [0.20, 0.10], [0.26, 0.02], [0.32, 0.14], [0.20, 0.30], [0.36, 0.24],
    [0.28, 0.34], [0.36, 0.26],
    [0.14, 0.06], [0.20, 0.10], [0.12, 0.04], [0.18, 0.08], [0.22, 0.12], [0.16, 0.06],
    [0.24, 0.14], [0.20, 0.10], [0.26, 0.16], [0.22, 0.12],
    [0.30, 0.18], [0.26, 0.14], [0.32, 0.20], [0.28, 0.16], [0.34, 0.22], [0.30, 0.18],
    [0.36, 0.24], [0.28, 0.14], [0.34, 0.22], [0.30, 0.18],
    [0.38, 0.24], [0.32, 0.16], [0.36, 0.22], [0.30, 0.18], [0.38, 0.26], [0.32, 0.20],
    [0.36, 0.22], [0.30, 0.16], [0.34, 0.22], [0.28, 0.14],
    [0.32, 0.20], [0.26, 0.12], [0.30, 0.18], [0.24, 0.10], [0.28, 0.16],
    [0.48, 0.40], [0.44, 0.36], [0.50, 0.40], [0.42, 0.32], [0.46, 0.36], [0.40, 0.30],
    [0.44, 0.34], [0.38, 0.28], [0.42, 0.32], [0.36, 0.24],
    [0.40, 0.30], [0.34, 0.22], [0.38, 0.28], [0.32, 0.20], [0.36, 0.26], [0.30, 0.20],
    [0.34, 0.24], [0.28, 0.18], [0.32, 0.22], [0.26, 0.16],
    [0.30, 0.20], [0.24, 0.14], [0.28, 0.18], [0.22, 0.12], [0.26, 0.16], [0.20, 0.10],
    [0.24, 0.14], [0.18, 0.08], [0.22, 0.12], [0.16, 0.06],
    [0.20, 0.10], [0.14, 0.04], [0.18, 0.08], [0.12, 0.02], [0.16, 0.06], [0.10, 0.02],
    [0.44, 0.36], [0.55, 0.42], [0.49, 0.38], [0.59, 0.44], [0.48],
    [0.26, -0.04], [0.44, 0.10], [0.14, 0.32], [0.55, 0.20], [0.32, 0.06], [0.49, 0.14],
    [0.14, 0.38], [0.36, 0.26], [0.26, 0.18], [0.44, 0.22],
    [0.30, 0.16], [0.35, 0.28], [0.26, 0.30], [0.20, 0.14],
    [0.44, 0.32], [0.40, 0.30], [0.49, 0.36], [0.38, 0.30], [0.44, 0.34], [0.40, 0.32],
    [0.49, 0.38], [0.44, 0.40], [0.46],
    [0.38], [0.44], [0.46, 0.48],
    [0.53, 0.44], [0.36, 0.30],
    [0.30, 0.22], [0.26, 0.12], [0.34, 0.20], [0.22, 0.10], [0.30, 0.16], [0.38, 0.24],
    [0.28, 0.14], [0.34, 0.20], [0.26, 0.12], [0.32, 0.18],
    [0.24, 0.10], [0.30, 0.16], [0.36, 0.22], [0.28, 0.14], [0.34, 0.20], [0.26, 0.12],
    [0.32, 0.18], [0.38, 0.24], [0.28, 0.14], [0.34, 0.20],
    [0.26, 0.12], [0.32, 0.18], [0.36, 0.24], [0.28, 0.14], [0.34, 0.20], [0.26, 0.12],
    [0.30, 0.16], [0.36, 0.22], [0.24, 0.08], [0.30, 0.18],
    [0.34, 0.22], [0.26, 0.12], [0.30, 0.16], [0.22, 0.08], [0.28, 0.14], [0.36, 0.20],
    [0.30, 0.06]]

wfs_time = [
    '03:41',
    '08:10', '08:11', '08:12', '08:13', '08:14', '08:42', '08:43',
    '08:47', '08:48', '08:49', '08:50', '08:51', '08:52', '08:53', '08:54', '08:55', '08:56',
    '08:57', '08:58', '08:59', '09:00', '09:01', '09:02', '09:03',
    '09:11', '09:12', '09:13', '09:14', '09:15',
    '09:29', '09:30', '09:31', '09:32', '09:33', '09:34', '09:35', '09:36', '09:37', '09:38',
    '09:39', '09:40', '09:41', '09:42', '09:43', '09:44', '09:45', '09:46', '09:47', '09:48',
    '09:49', '09:50', '09:51', '09:52', '09:53',
    '10:46']
wfs_dq = [
    [0.55],
    [0.68, 0.52], [0.79, 0.60], [0.56, 0.64], [0.48, 0.58], [0.62], [0.61, 0.50], [0.55],
    [0.55], [0.62], [0.58, 0.68], [0.64], [0.56, 0.70], [0.60], [0.66], [0.58],
    [0.62, 0.72], [0.60], [0.66], [0.56], [0.64], [0.58], [0.62], [0.85], [0.60],
    [0.62, 0.96], [0.78, 0.54], [0.70], [0.58, 0.66], [0.52],
    [0.66, 0.78, 0.56], [0.72, 0.60, 0.84], [0.68, 0.76], [0.62, 0.74, 0.80], [0.70, 0.58],
    [0.66, 0.78], [0.72, 0.60, 0.82], [0.64, 0.74], [0.68, 0.56], [0.62, 0.72, 0.78],
    [0.66, 0.58], [0.70, 0.62, 0.78], [0.64, 0.74], [0.72, 0.82], [0.80, 0.90, 0.70],
    [0.86, 0.96, 0.76], [0.92, 1.02, 0.80], [0.88, 1.06, 0.78], [0.94, 0.84, 1.00],
    [0.90, 0.80, 0.98], [0.86, 0.96, 0.78], [0.92, 0.82, 1.00], [0.88, 0.80, 0.94],
    [0.84, 0.92, 0.76], [0.86, 0.80],
    [0.55, 0.48]]

# ---------------- bottom panel: BLIQ+HO+LO / BLIQ+HO ----------------
bliq_time = [
    '03:29', '03:30', '03:40', '03:41', '03:42', '03:43', '03:44', '03:45',
    '03:59', '04:00', '04:01', '04:02', '04:03', '04:04',
    '04:13', '04:14', '04:15', '04:16', '04:17', '04:18', '04:19',
    '06:28', '06:29', '06:30', '06:31',
    '06:35', '06:36', '06:38', '06:40', '06:42', '06:44', '06:45',
    '06:52', '06:53', '06:55', '06:57', '06:59', '07:01', '07:02',
    '07:03', '07:04', '07:05', '07:06', '07:07', '07:08', '07:09', '07:10', '07:11', '07:12',
    '07:13', '07:14', '07:15', '07:16', '07:17', '07:18', '07:19', '07:20', '07:21', '07:22',
    '07:23',
    '07:31', '07:32', '07:33', '07:34', '07:35', '07:36', '07:37', '07:38', '07:39', '07:40',
    '07:41', '07:42', '07:43', '07:44', '07:45', '07:46', '07:47', '07:48', '07:49', '07:50',
    '07:51', '07:52', '07:53', '07:54', '07:55', '07:56', '07:57', '07:58', '07:59', '08:00',
    '08:01', '08:02', '08:03', '08:04', '08:05', '08:06',
    '08:11', '08:12', '08:13', '08:14', '08:17', '08:18', '08:19', '08:21', '08:23',
    '08:30', '08:31', '08:32', '08:33', '08:34', '08:35', '08:36', '08:37', '08:38', '08:39',
    '08:40', '08:41', '08:42', '08:43', '08:44', '08:45', '08:46',
    '08:48', '08:49', '08:50', '08:51', '08:52', '08:53', '08:54', '08:55', '08:56', '08:57',
    '08:58', '08:59', '09:00', '09:01', '09:02',
    '09:11', '09:12', '09:13', '09:14',
    '09:29', '09:30', '09:31', '09:32', '09:33', '09:34', '09:35', '09:36', '09:37', '09:38',
    '09:39', '09:40', '09:41', '09:42', '09:43', '09:44', '09:45', '09:46', '09:47', '09:48',
    '09:49', '09:50', '09:51', '09:52',
    '10:27', '10:28', '10:29',
    '10:42', '10:43', '10:44', '10:45', '10:46', '10:47', '10:48', '10:49', '10:50', '10:51',
    '10:52', '10:53', '10:54', '10:55', '10:56', '10:57', '10:58', '10:59', '11:00', '11:01',
    '11:02', '11:03', '11:04', '11:05', '11:06', '11:07', '11:08', '11:09', '11:10', '11:11',
    '11:12', '11:13', '11:14', '11:15']
bliq_ratio = [
    [0.94, 0.84], [0.78, 0.80], [0.97, 0.91], [0.88, 0.84], [0.80, 0.75], [0.72, 0.68],
    [0.65, 0.60], [0.62],
    [0.76, 0.70], [0.72, 0.66], [0.68, 0.62], [0.64, 0.58], [0.60, 0.55], [0.54],
    [0.58, 0.62], [0.64, 0.68], [0.70, 0.66], [0.74, 0.62], [0.72, 0.76], [0.60, 0.70],
    [0.76, 0.54],
    [0.84, 0.78], [0.74, 0.70], [0.66, 0.60], [0.56],
    [0.76, 0.70], [0.66, 0.62], [0.60, 0.64], [0.58, 0.62], [0.64, 0.60], [0.66, 0.58], [0.62],
    [0.86, 0.80], [0.78, 0.72], [0.72, 0.70], [0.76, 0.70], [0.74, 0.68], [0.80, 0.72],
    [0.78, 0.74],
    [0.82, 0.74], [0.76, 0.70], [0.73, 0.68], [0.80, 0.74], [0.88, 0.78], [0.82, 0.72],
    [0.76, 0.70], [0.80, 0.74], [0.88, 0.76], [0.84, 0.78],
    [0.92, 0.82], [0.99, 0.86], [0.90, 0.82], [0.86, 0.78], [0.92, 0.84], [0.88, 0.80],
    [1.03, 0.92], [0.96, 0.86], [0.90, 0.84], [0.88, 0.82],
    [0.86],
    [0.82, 0.76], [0.86, 0.78], [0.80, 0.74], [0.88, 0.80], [0.95, 0.86], [0.90, 0.82],
    [0.82, 0.76], [0.86, 0.78], [0.91, 0.84], [0.84, 0.76],
    [0.80, 0.74], [0.86, 0.78], [0.88, 0.82], [0.80, 0.74], [0.72, 0.68], [0.80, 0.76],
    [0.74, 0.70], [0.62, 0.66], [0.56, 0.60], [0.52, 0.48],
    [0.45, 0.50], [0.52, 0.48], [0.56, 0.60], [0.62, 0.68], [0.72, 0.78], [0.84, 0.91],
    [0.94, 0.98], [1.01, 0.96], [0.92, 0.88], [0.82, 0.78],
    [0.73, 0.76], [0.70, 0.78], [0.74, 0.82], [0.88, 0.80], [0.62, 0.70], [0.51, 0.56],
    [0.91, 0.86], [0.82, 0.78], [0.73, 0.70], [0.66, 0.62], [0.82, 0.78], [0.77],
    [0.73, 0.70], [0.71, 0.68], [0.70, 0.66],
    [0.88, 0.84], [0.91, 0.86], [0.85, 0.82], [0.80, 0.78], [0.78, 0.74], [0.76, 0.72],
    [0.74, 0.70], [0.70, 0.66], [0.68, 0.64], [0.66, 0.62],
    [0.64, 0.60], [0.66, 0.62], [0.64, 0.60], [0.68, 0.64], [0.72, 0.66], [0.64, 0.60],
    [0.62, 0.58],
    [0.57, 0.52], [0.50, 0.46], [0.46, 0.42], [0.42, 0.40], [0.40, 0.38], [0.39, 0.42],
    [0.40, 0.44], [0.42, 0.46], [0.48, 0.52], [0.52, 0.56],
    [0.56, 0.60], [0.59, 0.62], [0.65, 0.60], [0.62, 0.56], [0.59, 0.55],
    [0.59, 0.62], [0.75, 0.70], [0.84, 0.80], [0.78, 0.73],
    [0.88, 0.84], [0.86, 0.82], [0.82, 0.80], [0.80, 0.77], [0.77, 0.80], [0.82, 0.78],
    [0.85, 0.80], [0.84, 0.88], [0.88, 0.82], [0.93, 0.86],
    [0.90, 0.94], [0.97, 0.92], [0.95, 0.90], [0.99, 0.94], [0.97, 0.92], [0.95, 0.88],
    [0.86, 0.82], [0.82, 0.86], [0.88, 0.84], [0.86, 0.82],
    [0.91, 0.86], [0.88, 0.84], [0.84, 0.88], [0.86, 0.82],
    [0.80, 0.76], [0.72, 0.66], [0.60, 0.52],
    [0.49, 0.46], [0.52, 0.42], [0.46, 0.40], [0.44, 0.50], [0.52, 0.39], [0.42, 0.46],
    [0.44, 0.40], [0.52, 0.48], [0.64, 0.58], [0.75, 0.70],
    [0.72, 0.66], [0.70, 0.64], [0.68, 0.62], [0.72, 0.66], [0.66, 0.62], [0.70, 0.64],
    [0.68, 0.62], [0.73, 0.68], [0.70, 0.64], [0.66, 0.62],
    [0.68, 0.64], [0.72, 0.66], [0.66, 0.62], [0.77, 0.70], [0.72, 0.66], [0.70, 0.64],
    [0.66, 0.60], [0.52, 0.58], [0.66, 0.62], [0.70, 0.64],
    [0.62, 0.58], [0.58, 0.55], [0.60, 0.56], [0.57, 0.55]]

band_time = ['02:44', '11:30']
band_low = [0.5, 0.5]
band_high = [1.0, 1.0]

x_range = ['02:29:36', '11:45:24']


def stamp(t):
    return pd.Timestamp(f'{DAY} {t}')


def expand(times, vals, gap_min=None):
    xs, ys = [], []
    prev = None
    for t, v in zip(times, vals):
        ts = stamp(t)
        if gap_min and prev is not None and (ts - prev).total_seconds() > gap_min * 60:
            xs.append(None)
            ys.append(None)
        for y in (v if isinstance(v, list) else [v]):
            xs.append(ts)
            ys.append(y)
        prev = ts
    return xs, ys


fig = go.Figure()

# --- top panel
x, y = expand(gc1_time, gc1_fwhm)
fig.add_trace(go.Scatter(
    x=x, y=y, mode='markers', name='gc1', legend='legend', legendgroup='gc1',
    marker=dict(symbol='x-thin-open', size=9, color='#DDA548', opacity=0.65,
                line=dict(width=2.1, color='#DDA548'))))
x, y = expand(gc2_time, gc2_fwhm)
fig.add_trace(go.Scatter(
    x=x, y=y, mode='markers', name='gc2', legend='legend2', legendgroup='gc2',
    marker=dict(symbol='cross-thin-open', size=11, color='#2E7F80', opacity=0.55,
                line=dict(width=1.9, color='#2E7F80'))))
x, y = expand(wfs1_time, wfs1_fwhm)
fig.add_trace(go.Scatter(
    x=x, y=y, mode='lines+markers', name='wfs1', legend='legend', legendgroup='wfs1',
    line=dict(color='#C4C4C4', width=1),
    marker=dict(symbol='diamond', size=10, color='#FFBE00',
                line=dict(width=1.2, color='#FF2400'))))
fig.add_trace(go.Scatter(
    x=[None], y=[None], mode='lines+markers', name='wfs2', legend='legend2',
    legendgroup='wfs2', line=dict(color='#C4C4C4', width=1),
    marker=dict(symbol='triangle-down', size=9, color='#505060',
                line=dict(width=1, color='#9090A0'))))
fig.add_trace(go.Scatter(
    x=[stamp(t) for t in dimm_time], y=dimm_seeing, mode='lines+markers', name='dimm',
    legend='legend', legendgroup='dimm',
    line=dict(color='#0A0AE6', width=1.8),
    marker=dict(symbol='circle', size=7, color='#EEEE55',
                line=dict(width=1.6, color='#0A0AE6'))))

# --- middle panel
x, y = expand(guider_time, guider_dq)
fig.add_trace(go.Scatter(
    x=x, y=y, mode='lines+markers', xaxis='x2', yaxis='y2', showlegend=False,
    line=dict(color='#CCCCCC', width=1.2),
    marker=dict(symbol='circle', size=11, color='#800080',
                line=dict(width=1, color='#E4CCEA'))))
x, y = expand(wfs_time, wfs_dq, gap_min=120)
fig.add_trace(go.Scatter(
    x=x, y=y, mode='lines+markers', xaxis='x2', yaxis='y2', showlegend=False,
    line=dict(color='#CCCCCC', width=1.2),
    marker=dict(symbol='x', size=9, color='#FF0000', line=dict(width=0))))

# --- bottom panel
band_x = [stamp(t) for t in band_time]
fig.add_trace(go.Scatter(
    x=band_x, y=band_low, mode='lines', xaxis='x3', yaxis='y3', showlegend=False,
    line=dict(color='#CC1F1F', width=1.3, dash='dash')))
fig.add_trace(go.Scatter(
    x=band_x, y=band_high, mode='lines', xaxis='x3', yaxis='y3', showlegend=False,
    fill='tonexty', fillcolor='rgba(235,60,60,0.07)',
    line=dict(color='#CC1F1F', width=1.3, dash='dash')))
x, y = expand(bliq_time, bliq_ratio)
fig.add_trace(go.Scatter(
    x=x, y=y, mode='markers', xaxis='x3', yaxis='y3', showlegend=False,
    marker=dict(symbol='circle', size=10, color='#000080',
                line=dict(width=1, color='#C8CCE4'))))

W, H = 1400, 700
xdom = [44 / W, 1378 / W]
xr = [stamp(t) for t in x_range]


def xax(anchor):
    return dict(domain=xdom, anchor=anchor, range=xr, type='date', automargin=False,
                tickformat='%H:%M', dtick=3600000, tick0=f'{DAY} 00:00',
                showgrid=False, showline=True, linecolor='black', linewidth=1.2,
                ticks='inside', ticklen=4, tickcolor='black', zeroline=False,
                tickfont=dict(size=14, color='#111'))


def yax(dom, rng, vals, text, minor, minor_color='#E9E9E9'):
    return dict(domain=dom, range=rng, tickvals=vals, ticktext=text, automargin=False,
                showline=True, linecolor='black', linewidth=1.2, ticks='',
                showgrid=True, gridcolor='#8C8C8C', gridwidth=1, zeroline=False,
                minor=dict(dtick=minor, tick0=0, showgrid=True,
                           gridcolor=minor_color, gridwidth=1),
                tickfont=dict(size=14, color='#111'))


def title(text, ypix):
    return dict(text=text, x=711 / W, y=1 - ypix / H, xref='paper', yref='paper',
                xanchor='center', yanchor='middle', showarrow=False, font=dict(size=14))


fig.update_layout(
    width=W, height=H, margin=dict(l=0, r=0, t=0, b=0, autoexpand=False),
    plot_bgcolor='white', paper_bgcolor='white',
    font=dict(family=FONT, size=13, color='#111'),
    xaxis=xax('y'), xaxis2=xax('y2'), xaxis3=xax('y3'),
    yaxis=yax([1 - 338 / H, 1 - 39.5 / H], [0.326, 3.574],
              [0.5, 1, 1.5, 2, 2.5, 3], ['0.5', '1', '1.5', '2', '2.5', '3'], 0.1),
    yaxis2=yax([1 - 506 / H, 1 - 397 / H], [-1.39, 2.46],
               [-1, -0.5, 0, 0.5, 1, 1.5, 2], ['-1', '', '0', '', '1', '', '2'], 0.1,
               '#F1F1F1'),
    yaxis3=yax([1 - 671 / H, 1 - 561 / H], [-0.19, 1.98],
               [0, 0.5, 1.0, 1.5], ['0', '0.5', '1.0', '1.5'], 0.05, '#EEEEEE'),
    legend=dict(x=63 / W, y=1 - 52 / H, xanchor='left', yanchor='top',
                bgcolor='rgba(0,0,0,0)', tracegroupgap=5, font=dict(size=13)),
    legend2=dict(x=157 / W, y=1 - 52 / H, xanchor='left', yanchor='top',
                 bgcolor='rgba(0,0,0,0)', tracegroupgap=5, font=dict(size=13)),
    shapes=[dict(type='rect', xref='paper', yref='paper',
                 x0=65 / W, x1=241 / W, y0=1 - 138 / H, y1=1 - 44 / H,
                 line=dict(color='#333', width=1.2), fillcolor='rgba(0,0,0,0)')],
    annotations=[
        title('DIQ - 2025-08-06', 24),
        title('Guider — WFS', 381),
        title('BLIQ+HO+LO — BLIQ+HO', 547),
    ],
)

fig.write_html('out.html', config={'displayModeBar': False},
               post_script="document.body.style.margin='0';")
